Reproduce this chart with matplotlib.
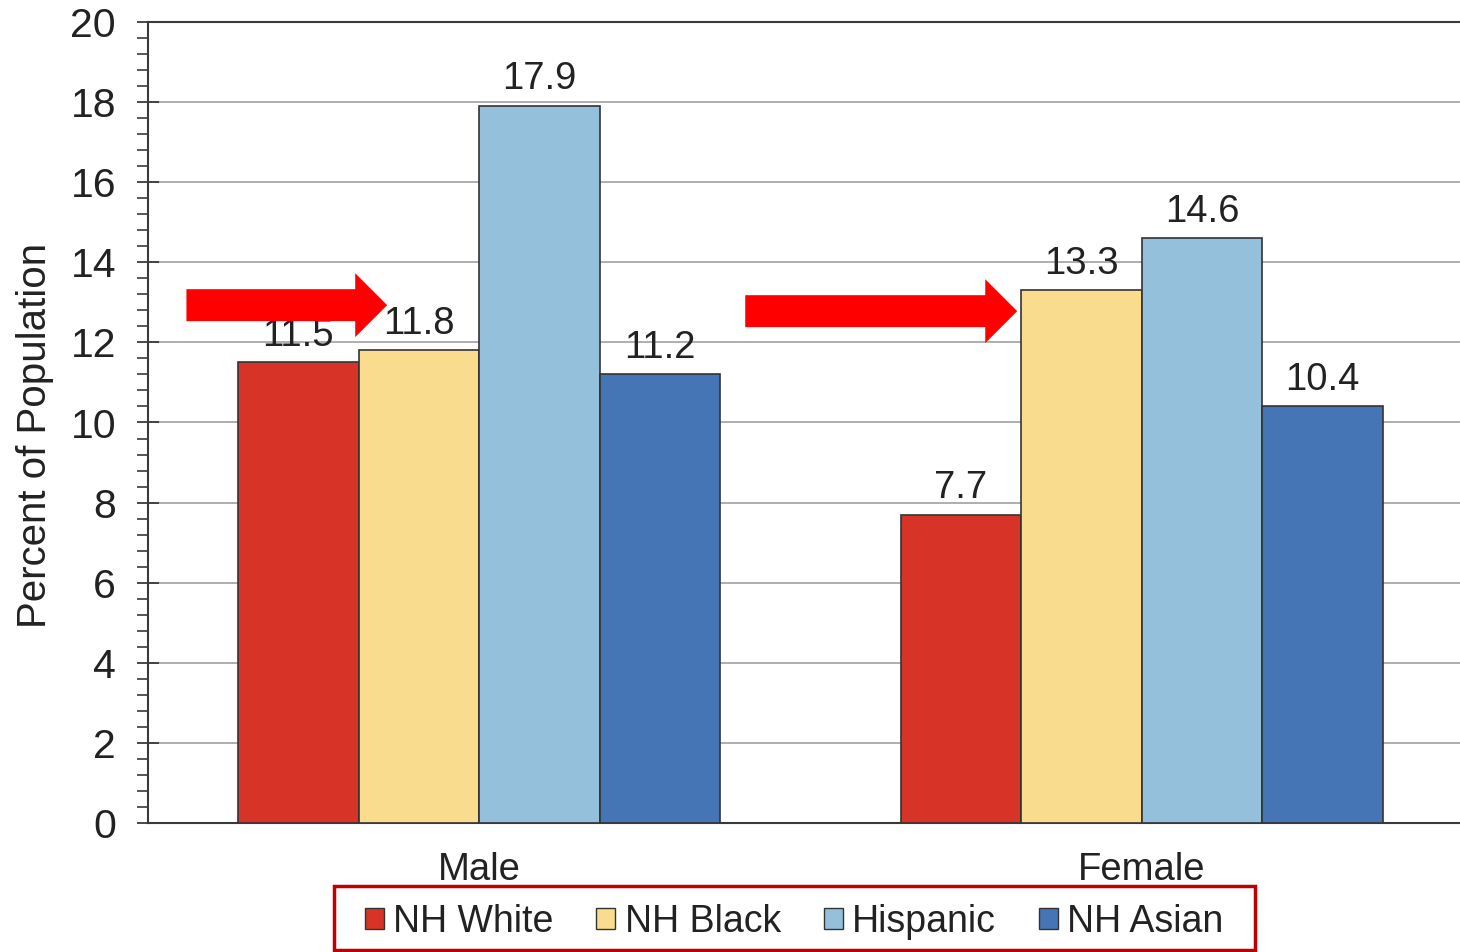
import matplotlib
matplotlib.use("Agg")
import matplotlib.pyplot as plt
import numpy as np
from matplotlib.ticker import MultipleLocator
from matplotlib.patches import Patch, Rectangle

plt.rcParams['font.family'] = ['Liberation Sans', 'DejaVu Sans']

groups = ["Male", "Female"]
series = ["NH White", "NH Black", "Hispanic", "NH Asian"]
values = {
    "NH White": [11.5, 7.7],
    "NH Black": [11.8, 13.3],
    "Hispanic": [17.9, 14.6],
    "NH Asian": [11.2, 10.4],
}
colors = ["#d83327", "#f9dc8e", "#94c0dc", "#4575b4"]
y_ticks = [0, 2, 4, 6, 8, 10, 12, 14, 16, 18, 20]

W, H, DPI = 1460, 952, 100
fig = plt.figure(figsize=(W / DPI, H / DPI), dpi=DPI)
ax = fig.add_axes([148 / W, 129 / H, 1325 / W, 801 / H])

text_color = "#222222"
axis_color = "#3a3a3a"
fs_val = 27.5
fs_ytick = 29.5
fs_xtick = 27.5
fs_ylabel = 29
fs_leg = 27

x = np.arange(len(groups))
bw = 0.182
n = len(series)
for i, (name, c) in enumerate(zip(series, colors)):
    pos = x + (i - (n - 1) / 2) * bw
    vals = values[name]
    ax.bar(pos, vals, width=bw, color=c, edgecolor="#333333", linewidth=1.2, zorder=3)
    for px, v in zip(pos, vals):
        ax.annotate(f"{v:.1f}", (px, v), xytext=(0, 12), textcoords="offset points",
                    ha="center", va="baseline", fontsize=fs_val, color=text_color, zorder=4)

ax.set_xlim(-0.5, 1.5)
ax.set_ylim(0, 20)
ax.set_yticks(y_ticks)
ax.set_yticklabels([str(t) for t in y_ticks])
ax.yaxis.set_minor_locator(MultipleLocator(0.4))
ax.set_xticks(x)
ax.set_xticklabels(groups)

ax.tick_params(axis="y", which="major", direction="inout", length=16, width=1.3,
               color=axis_color, labelsize=fs_ytick, labelcolor=text_color, pad=15)
ax.tick_params(axis="y", which="minor", direction="out", length=8, width=1.2, color=axis_color)
ax.tick_params(axis="x", which="both", length=0, labelsize=fs_xtick, labelcolor=text_color, pad=21)

ax.grid(axis="y", which="major", color="#a8a8a8", linewidth=1.3, zorder=0)
ax.set_axisbelow(True)

for s in ["left", "bottom", "top"]:
    ax.spines[s].set_color(axis_color)
    ax.spines[s].set_linewidth(1.5)
ax.spines["right"].set_visible(False)

ax.set_ylabel("Percent of Population", fontsize=fs_ylabel, color=text_color)
ax.yaxis.set_label_coords(-0.071, 0.484)

# Highlight arrows pointing at the NH Black bars
arrow_style = "simple,head_length=1,head_width=2,tail_width=1"
arrows = [((-0.442, 12.93), (-0.139, 12.93)), ((0.4015, 12.78), (0.812, 12.78))]
for tail, tip in arrows:
    ax.annotate("", xy=tip, xytext=tail,
                arrowprops=dict(arrowstyle=arrow_style, mutation_scale=23,
                                color="#ff0000", shrinkA=0, shrinkB=0, linewidth=0),
                zorder=6)

handles = [Patch(facecolor=c, edgecolor="#333333", linewidth=1.0) for c in colors]
leg = fig.legend(handles, series, loc="center", bbox_to_anchor=(794 / W, 30 / H),
                 ncol=4, fontsize=fs_leg, frameon=False,
                 handlelength=0.5, handleheight=0.5, handletextpad=0.25,
                 columnspacing=1.15, borderpad=0.38, borderaxespad=0)
for t in leg.get_texts():
    t.set_color(text_color)

# Red outline around the legend, with extra horizontal padding
fig.canvas.draw()
bb = leg.get_window_extent()
extra_x, lift = 17, 4
to_fig = fig.transFigure.inverted()
(x0, y0), (x1, y1) = to_fig.transform([(bb.x0 - extra_x, bb.y0 + lift),
                                       (bb.x1 + extra_x, bb.y1 + lift)])
fig.patches.append(Rectangle((x0, y0), x1 - x0, y1 - y0, transform=fig.transFigure,
                             fill=False, edgecolor="#c00000", linewidth=2.5, zorder=10))

fig.savefig("out.png", dpi=DPI)
